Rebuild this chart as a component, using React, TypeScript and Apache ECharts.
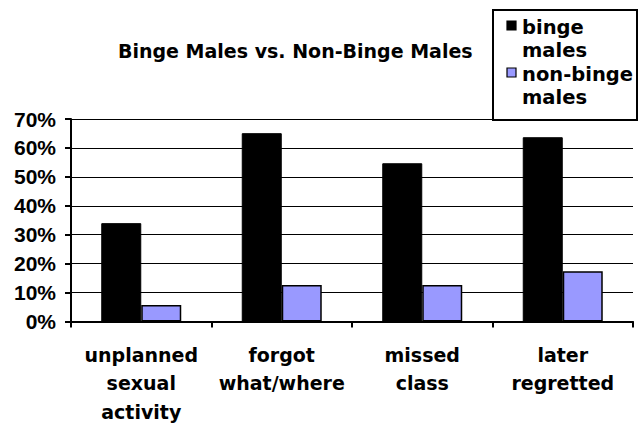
import React, { useEffect, useRef } from "react";
import * as echarts from "echarts";

const categories = ["unplanned\nsexual\nactivity", "forgot\nwhat/where", "missed\nclass", "later\nregretted"];
const seriesNames = ["binge males", "non-binge males"];
const legendLines = [["binge", "males"], ["non-binge", "males"]];
const seriesColors = ["#000000", "#9999ff"];
const bingeValues = [0.34, 0.651, 0.547, 0.637];
const nonBingeValues = [0.057, 0.126, 0.126, 0.174];
const yTicks = [0, 0.1, 0.2, 0.3, 0.4, 0.5, 0.6, 0.7];

const wideFont = "DejaVu Sans";
const narrowFont = "Liberation Sans";

export default function App() {
  const ref = useRef<HTMLDivElement>(null);
  useEffect(() => {
    if (!ref.current) return;
    const chart = echarts.init(ref.current, undefined, { renderer: "svg" });

    const legendIconY = [26, 73];
    const legendLineGap = 23.5;
    const legendGraphics: any[] = [
      {
        type: "rect",
        shape: { x: 493, y: 10, width: 144, height: 110 },
        style: { fill: "#fff", stroke: "#000", lineWidth: 2 },
        z: 5,
      },
    ];
    legendLines.forEach((lines, i) => {
      legendGraphics.push({
        type: "rect",
        shape: { x: 507, y: legendIconY[i] - 5, width: 9, height: 9 },
        style: { fill: seriesColors[i], stroke: "#000", lineWidth: 1.2 },
        z: 6,
      });
      lines.forEach((line, j) => {
        legendGraphics.push({
          type: "text",
          x: 522,
          y: legendIconY[i] + 1 + j * legendLineGap,
          style: {
            text: line,
            fontFamily: wideFont,
            fontWeight: "bold",
            fontSize: 19.5,
            lineHeight: 19,
            fill: "#000",
            align: "left",
            verticalAlign: "middle",
          },
          z: 6,
        });
      });
    });

    chart.setOption({
      animation: false,
      backgroundColor: "#fff",
      title: {
        text: "Binge Males vs. Non-Binge Males",
        left: 118,
        top: 41,
        padding: 0,
        textStyle: { fontFamily: wideFont, fontWeight: "bold", fontSize: 19, color: "#000" },
      },
      graphic: legendGraphics,
      grid: { left: 71, right: 6, top: 119, bottom: 104.3, containLabel: false },
      xAxis: {
        type: "category",
        data: categories,
        axisLine: { lineStyle: { color: "#000", width: 2 } },
        axisTick: { show: true, length: 6, lineStyle: { color: "#000", width: 2 } },
        axisLabel: {
          interval: 0,
          margin: 19,
          fontFamily: wideFont,
          fontWeight: "bold",
          fontSize: 19,
          lineHeight: 28.5,
          color: "#000",
        },
      },
      yAxis: {
        type: "value",
        min: 0,
        max: 0.7,
        interval: 0.1,
        axisLine: { show: true, lineStyle: { color: "#000", width: 2 } },
        axisTick: { show: true, length: 6, lineStyle: { color: "#000", width: 2 } },
        splitLine: { show: true, lineStyle: { color: "#000", width: 1 } },
        axisLabel: {
          margin: 15,
          fontFamily: narrowFont,
          fontWeight: "bold",
          fontSize: 21,
          color: "#000",
          formatter: (v: number) => (yTicks.some((t) => Math.abs(t - v) < 1e-9) ? Math.round(v * 100) + "%" : ""),
        },
      },
      series: [
        {
          name: seriesNames[0],
          type: "bar",
          data: bingeValues,
          barWidth: 40,
          barGap: "0%",
          itemStyle: { color: seriesColors[0], borderColor: "#000", borderWidth: 1 },
        },
        {
          name: seriesNames[1],
          type: "bar",
          data: nonBingeValues,
          barWidth: 40,
          barGap: "0%",
          itemStyle: { color: seriesColors[1], borderColor: "#000", borderWidth: 1.5 },
        },
      ],
    });
    return () => chart.dispose();
  }, []);
  return (
    <div
      ref={ref}
      style={{ position: "absolute", left: 0, top: 0, width: 639, height: 426 }}
    />
  );
}
